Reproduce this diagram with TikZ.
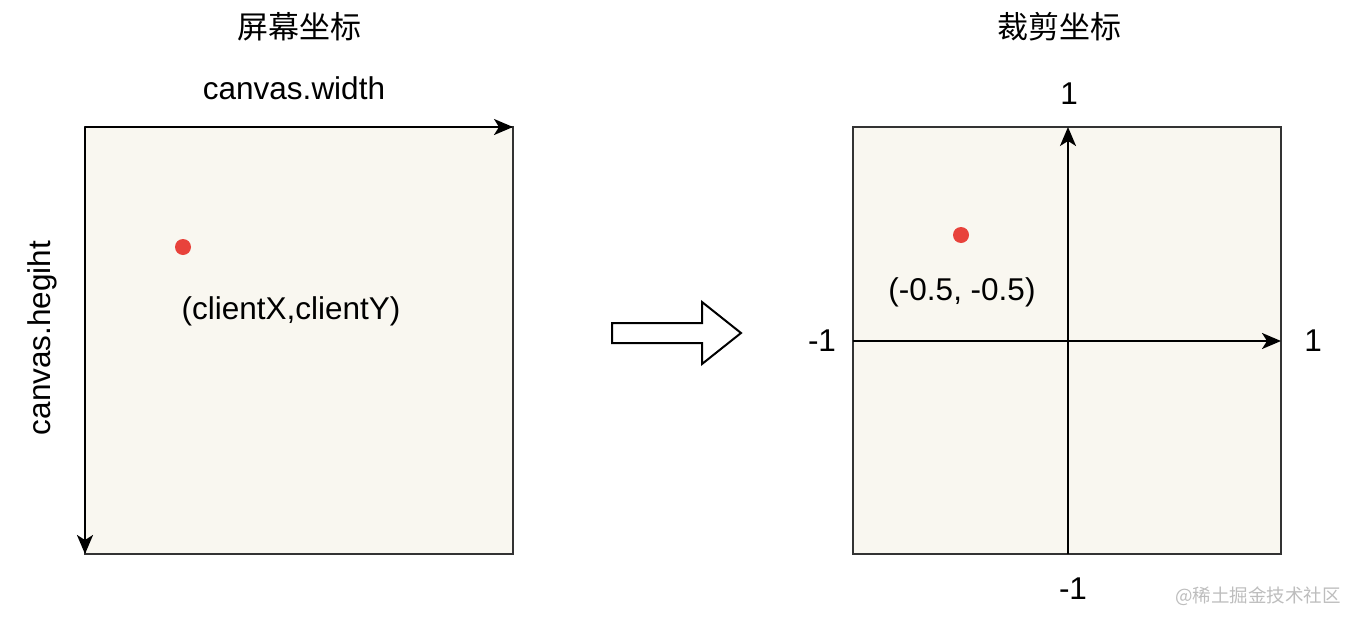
\documentclass[tikz,border=0pt]{standalone}
\usepackage{fontspec}
\setmainfont{Liberation Sans}
\newfontfamily\cjk{Noto Sans CJK SC}
\usetikzlibrary{arrows.meta}
\definecolor{paper}{HTML}{F9F7F0}
\definecolor{dotred}{HTML}{E8423B}
\definecolor{edge}{HTML}{333333}
\definecolor{wm}{HTML}{BDBDBD}
\tikzset{
  panel/.style={draw=edge, line width=1.8pt, fill=paper},
  axis/.style={draw=black, line width=2.2pt, -{Stealth[length=19pt,width=16pt,inset=5pt]}},
  lbl/.style={inner sep=0pt, font=\fontsize{31.5}{36}\selectfont},
  ttl/.style={inner sep=0pt, font=\cjk\fontsize{31}{36}\selectfont},
  dot/.style={circle, fill=dotred, inner sep=0pt, minimum size=16pt},
  bigarrow/.style={draw=black, line width=2pt, fill=white, line join=miter}
}
\begin{document}
\begin{tikzpicture}[x=1pt,y=-1pt]
\useasboundingbox (0,0) rectangle (1358,624);
% left panel
\path[panel] (85,127) rectangle (513,554);
\coordinate (lo) at (85,127);
\coordinate (lx) at (513,127);
\coordinate (ly) at (85,554);
\draw[axis] (lo) -- (lx);
\draw[axis] (lo) -- (ly);
\node[ttl] (t1) at (299,27) {屏幕坐标};
\node[lbl] (cw) at (294,88) {canvas.width};
\node[lbl, rotate=90] (ch) at (42,338) {canvas.hegiht};
\node[dot] (d1) at (183,247) {};
\node[lbl] (cxy) at (291,311) {(clientX,clientY)};
% big arrow
\path[bigarrow] (612,323) -- (702,323) -- (702,302) -- (741,333) -- (702,364) -- (702,343) -- (612,343) -- cycle;
% right panel
\path[panel] (853,127) rectangle (1281,554);
\coordinate (vb) at (1068,554);
\coordinate (vt) at (1068,127);
\coordinate (hl) at (853,341);
\coordinate (hr) at (1281,341);
\draw[axis] (vb) -- (vt);
\draw[axis] (hl) -- (hr);
\node[ttl] (t2) at (1059,27) {裁剪坐标};
\node[lbl] (ytop) at (1069,94) {1};
\node[lbl] (xr) at (1313,341) {1};
\node[lbl] (xl) at (822,341) {-1};
\node[lbl] (ybot) at (1073,589) {-1};
\node[dot] (d2) at (961,235) {};
\node[lbl] (pt) at (962,292) {(-0.5, -0.5)};
% watermark
\node[inner sep=0pt, text=wm, font=\cjk\fontsize{18.5}{22}\selectfont] (wmk) at (1258,596) {@稀土掘金技术社区};
\end{tikzpicture}
\end{document}
